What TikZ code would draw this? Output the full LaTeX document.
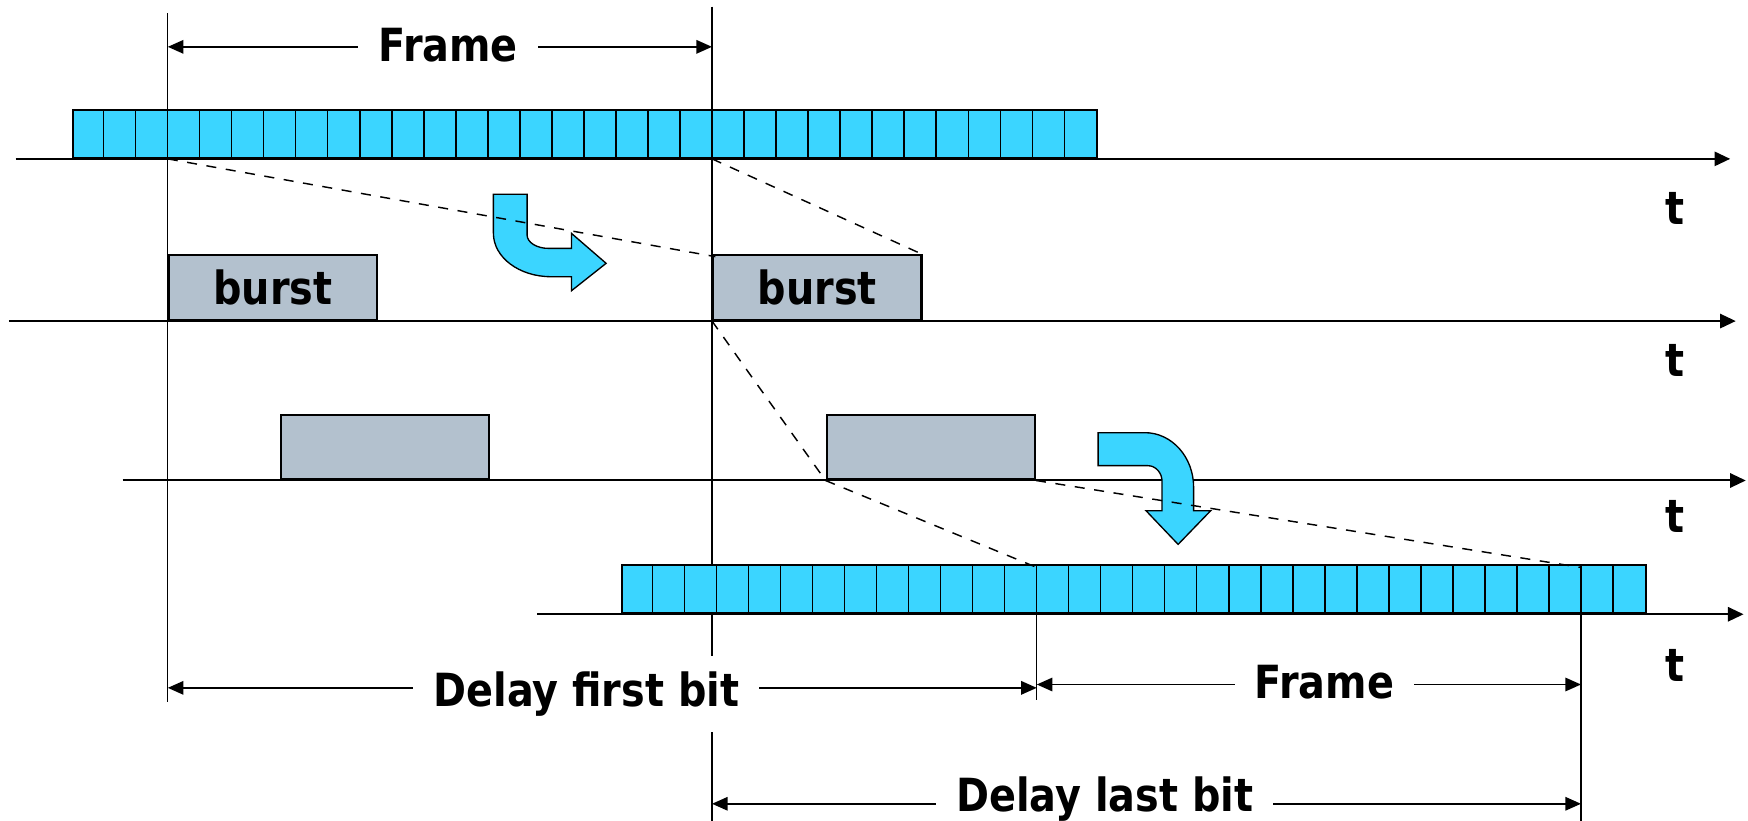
\documentclass[tikz,border=0pt]{standalone}
\usepackage{fontspec}
\setmainfont{DejaVu Sans}[FakeStretch=0.87]
\usetikzlibrary{arrows.meta}

\definecolor{bitcyan}{RGB}{59,213,255}
\definecolor{burstgray}{RGB}{179,193,206}

\begin{document}
\begin{tikzpicture}[x=0.5pt,y=-0.5pt,
  axis/.style={line width=0.9pt,-{Triangle[length=7pt,width=6.4pt]}},
  guide/.style={line width=0.6pt},
  dim/.style={line width=0.85pt,{Triangle[length=7pt,width=6pt]}-{Triangle[length=7pt,width=6pt]}},
  lbl/.style={font=\fontsize{20.5}{24}\selectfont\bfseries},
  dimlbl/.style={lbl, fill=white, inner xsep=9pt, inner ysep=7pt, anchor=base},
  tlbl/.style={lbl, inner sep=0pt, anchor=base},
  bitbar/.style={draw, line width=0.9pt, fill=bitcyan, minimum width=459.52pt,
    minimum height=21.5pt, inner sep=0pt, anchor=south west},
  divider/.style={line width=0.6pt},
  burstbox/.style={draw, line width=0.9pt, fill=burstgray, minimum width=93.5pt,
    minimum height=29pt, inner sep=0pt, anchor=south west},
  bendarrow/.style={draw, line width=0.6pt, fill=bitcyan},
  proj/.style={line width=0.65pt, dash pattern=on 4.5pt off 4.3pt}
]
\useasboundingbox (0,0) rectangle (1568,736);

% time-line reference marks
\coordinate (v1top) at (150.5,12);   \coordinate (v1bot) at (150.5,630);
\coordinate (v2top) at (638.7,6);    \coordinate (v2bot) at (638.7,736);
\coordinate (v3top) at (930,509);    \coordinate (v3bot) at (930,628);
\coordinate (v4top) at (1418.2,509); \coordinate (v4bot) at (1418.2,736);
\draw[guide] (v1top) -- (v1bot);
\draw[guide] (v2top) -- (v2bot);
\draw[guide] (v3top) -- (v3bot);
\draw[guide] (v4top) -- (v4bot);

% time axes
\coordinate (a1s) at (14,142.5);  \coordinate (a1e) at (1552,142.5);
\coordinate (a2s) at (8,288);     \coordinate (a2e) at (1557,288);
\coordinate (a3s) at (110,431);   \coordinate (a3e) at (1566,431);
\coordinate (a4s) at (482,551);   \coordinate (a4e) at (1564,551);
\draw[axis] (a1s) -- (a1e);
\draw[axis] (a2s) -- (a2e);
\draw[axis] (a3s) -- (a3e);
\draw[axis] (a4s) -- (a4e);

\node[tlbl] (t1) at (1502.6,201) {t};
\node[tlbl] (t2) at (1502.6,338) {t};
\node[tlbl] (t3) at (1502.6,478) {t};
\node[tlbl] (t4) at (1502.6,611) {t};

% transmitted frame (32 bits)
\node[bitbar] (topbar) at (64.3,142.5) {};
\foreach \i in {1,...,31}
  \draw[divider] ([xshift=\i*14.36pt]topbar.south west) -- ([xshift=\i*14.36pt]topbar.north west);

% received frame (32 bits)
\node[bitbar] (botbar) at (556.6,551) {};
\foreach \i in {1,...,31}
  \draw[divider] ([xshift=\i*14.36pt]botbar.south west) -- ([xshift=\i*14.36pt]botbar.north west);

% bursts
\node[burstbox, lbl] (b1) at (150.5,288) {burst};
\node[burstbox, lbl] (b2) at (638.7,288) {burst};
\node[burstbox] (c1) at (250.8,431) {};
\node[burstbox] (c2) at (740.5,431) {};

% bent arrows
\draw[bendarrow] (442.6,174.3) -- (472.8,174.3) -- (472.8,210.8)
  .. controls (472.8,217.4) and (481.4,222.8) .. (492,222.8)
  -- (512.6,222.8) -- (512.6,209.3) -- (543.7,236.2) -- (512.6,260.8)
  -- (512.6,248.2) -- (494.3,248.2)
  .. controls (465.7,248.2) and (442.6,230.8) .. (442.6,209.3) -- cycle;
\draw[bendarrow] (985,388.1) -- (1027,388.1)
  .. controls (1051.1,388.1) and (1070.7,410) .. (1070.7,437)
  -- (1070.7,458.1) -- (1086,458.1) -- (1056.8,488.3) -- (1028,458.1)
  -- (1042.4,458.1) -- (1042.4,432)
  .. controls (1042.4,424.1) and (1036.7,417.7) .. (1029.6,417.7)
  -- (985,417.7) -- cycle;

% projections of first and last bits
\draw[proj] (v1top |- a1s) -- ([shift={(1.5pt,-1pt)}]b2.north west);
\draw[proj] (v2top |- a1s) -- (b2.north east);
\draw[proj] (b2.south west) -- (c2.south west);
\draw[proj] (c2.south west) -- (v3top);
\draw[proj] (c2.south east) -- (v4top);

% dimension lines
\coordinate (yfr) at (0,42);
\coordinate (yfb) at (0,617);
\coordinate (yff) at (0,614);
\coordinate (ylb) at (0,721);
\draw[dim] (v1top |- yfr) -- (v2top |- yfr);
\draw[dim] (v1top |- yfb) -- (v3top |- yfb);
\draw[dim] (v3top |- yff) -- (v4top |- yff);
\draw[dim] (v2top |- ylb) -- (v4top |- ylb);
\node[dimlbl] (lfr) at (402,55.3) {Frame};
\node[dimlbl] (lfb) at (526,634) {Delay first bit};
\node[dimlbl] (lff) at (1188,627) {Frame};
\node[dimlbl] (llb) at (991,727.5) {Delay last bit};
\end{tikzpicture}
\end{document}
